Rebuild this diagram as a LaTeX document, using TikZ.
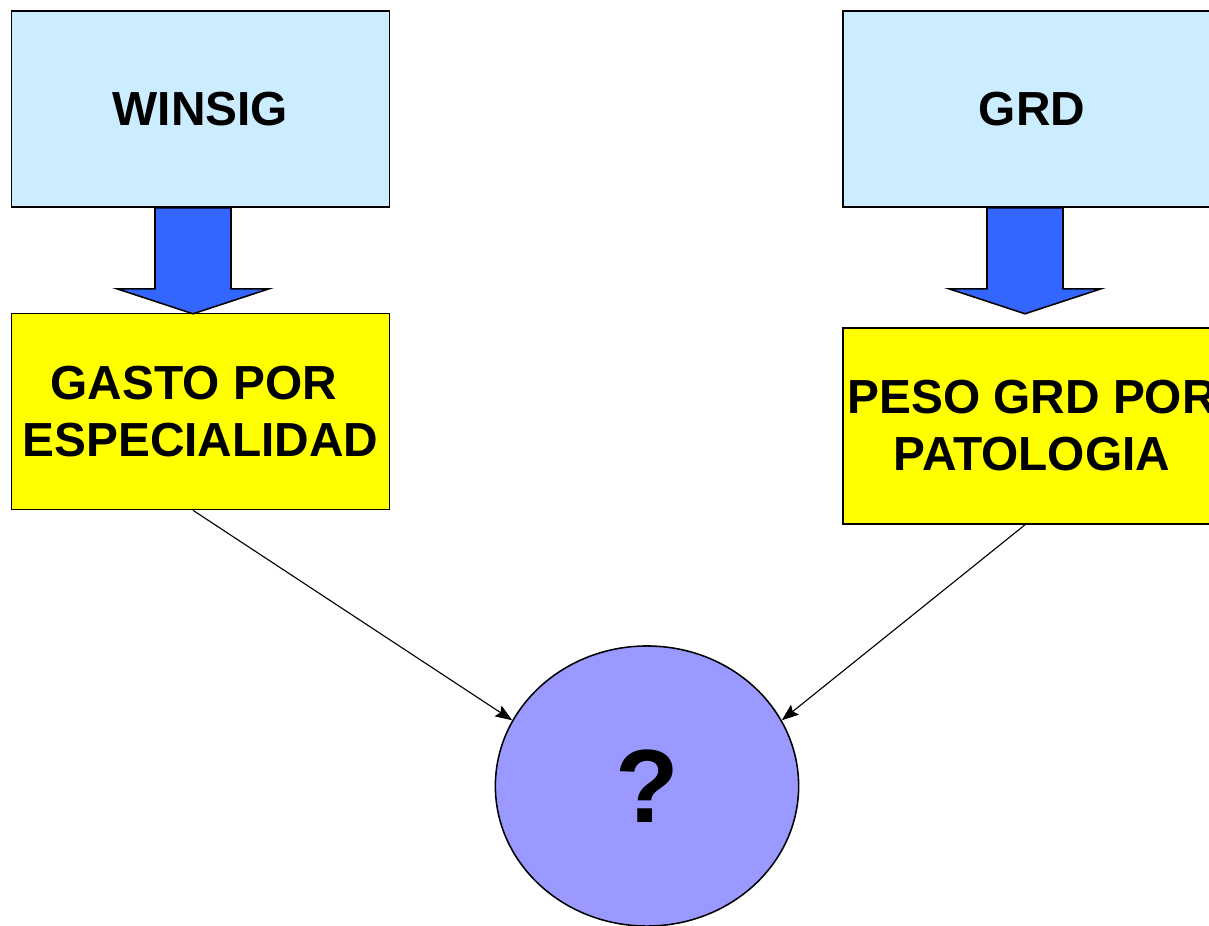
\documentclass[tikz,border=0pt]{standalone}
\usepackage{fontspec}
\setmainfont{Liberation Sans}
\usetikzlibrary{calc,arrows.meta,shapes.geometric}

\definecolor{boxblue}{HTML}{CCECFF}
\definecolor{boxyellow}{HTML}{FFFF00}
\definecolor{arrowblue}{HTML}{3366FF}
\definecolor{ballblue}{HTML}{9999FF}

\tikzset{
  source/.style={draw=black, line width=1.1pt, fill=boxblue, minimum width=9.45cm, minimum height=4.9cm,
    inner sep=0pt, font=\bfseries\fontsize{34}{40.5}\selectfont},
  result/.style={source, fill=boxyellow, align=center},
  ball/.style={draw=black, line width=1.1pt, fill=ballblue, ellipse, minimum width=7.58cm, minimum height=7cm,
    inner sep=0pt, font=\bfseries\fontsize{74}{80}\selectfont},
  link/.style={draw=black, line width=0.8pt, -{Stealth[length=12pt, width=9pt, inset=2pt]}},
  bigarrow/.pic={
    \draw[line width=1.1pt, fill=arrowblue, line join=miter]
      (-38,0) -- (-38,81) -- (-76,81) -- (0,106) -- (76,81) -- (38,81) -- (38,0) -- cycle;
  }
}

\begin{document}
\begin{tikzpicture}[x=0.025cm, y=-0.025cm]
    \useasboundingbox (0,0) rectangle (1209,926);

    % the two sources on top
    \node[source] (winsig) at (200.5,109) {WINSIG};
    \node[source] (grd) at (1032,109) {GRD};

    % what each one gives
    \node[result] (gasto) at (200.5,411.5) {GASTO POR\kern.28em\\ESPECIALIDAD};
    \node[result] (peso) at (1032,426) {PESO GRD POR\\PATOLOGIA};

    % the unknown in the middle
    \node[ball] (unknown) at (647,786) {?};

    % big blue arrows
    \path ($(winsig.south)+(-7.5,0)$) pic {bigarrow};
    \path ($(grd.south)+(-7,0)$) pic {bigarrow};

    % thin arrows to the unknown
    \draw[link] ($(gasto.south)+(-7.5,0)$) -- (unknown.154);
    \draw[link] ($(peso.south)+(-7,0)$) -- (unknown.26);
\end{tikzpicture}
\end{document}
